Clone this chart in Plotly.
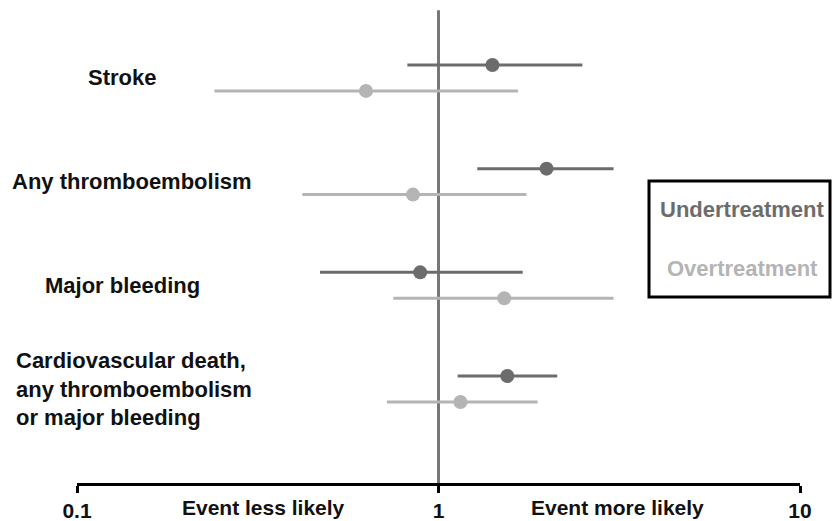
import math
import plotly.graph_objects as go

outcomes = ["Stroke", "Any thromboembolism", "Major bleeding",
            "Cardiovascular death,<br>any thromboembolism<br>or major bleeding"]
under_est = [1.41, 1.99, 0.89, 1.55]
under_lo = [0.82, 1.28, 0.47, 1.13]
under_hi = [2.50, 3.05, 1.71, 2.13]
over_est = [0.63, 0.85, 1.52, 1.15]
over_lo = [0.24, 0.42, 0.75, 0.72]
over_hi = [1.66, 1.75, 3.05, 1.88]
tick_vals = [0.1, 1, 10]
tick_text = ["0.1", "1", "10"]
direction_labels = ["Event less likely", "Event more likely"]
direction_pos = [0.328, 3.13]
series_names = ["Undertreatment", "Overtreatment"]

DARK = "#6c6c6c"
LIGHT = "#b4b4b4"
FONT = "Liberation Sans, Arial, sans-serif"
FS = 22
FS_AX = 21

idx = list(range(len(outcomes)))
off = 0.125

fig = go.Figure()
for est, lo, hi, color, sgn, name in [
    (under_est, under_lo, under_hi, DARK, -1, series_names[0]),
    (over_est, over_lo, over_hi, LIGHT, 1, series_names[1]),
]:
    fig.add_trace(go.Scatter(
        x=est, y=[i + sgn * off for i in idx], mode="markers", name=name,
        marker=dict(size=14, color=color),
        error_x=dict(type="data", symmetric=False,
                     array=[h - e for h, e in zip(hi, est)],
                     arrayminus=[e - l for e, l in zip(est, lo)],
                     color=color, thickness=3, width=0),
        showlegend=False, cliponaxis=False,
    ))

fig.add_shape(type="line", xref="x", yref="paper", x0=1, x1=1, y0=0, y1=0.979,
              line=dict(color="#777777", width=3), layer="below")

# y-axis category labels
label_pos = [(122, "center"), (132, "center"), (122, "center"), (14, "left")]
for i, (txt, (px, anc)) in enumerate(zip(outcomes, label_pos)):
    fig.add_annotation(x=(px - 77) / 723, xref="paper", y=i, yref="y",
                       text="<b>" + txt + "</b>",
                       showarrow=False, xanchor=anc, yanchor="middle", align="left",
                       font=dict(family=FONT, size=FS, color="#111111"))

# axis direction labels (annotation x on a log axis is given in log10 units)
for xv, txt in zip(direction_pos, direction_labels):
    fig.add_annotation(x=math.log10(xv), xref="x", y=(483 - 507) / 483, yref="paper",
                       text="<b>" + txt + "</b>", showarrow=False,
                       xanchor="center", yanchor="middle",
                       font=dict(family=FONT, size=FS_AX, color="#111111"))

# legend box
fig.add_shape(type="rect", xref="paper", yref="paper",
              x0=(649 - 77) / 723, x1=(830 - 77) / 723,
              y0=(483 - 297) / 483, y1=(483 - 181) / 483,
              line=dict(color="black", width=3))
for name, color, py in [(series_names[0], DARK, 209), (series_names[1], LIGHT, 268)]:
    fig.add_annotation(x=(742 - 77) / 723, xref="paper", y=(483 - py) / 483, yref="paper",
                       text="<b>" + name + "</b>", showarrow=False,
                       xanchor="center", yanchor="middle",
                       font=dict(family=FONT, size=FS, color=color))

fig.update_layout(
    width=833, height=521,
    margin=dict(l=77, r=33, t=0, b=38, autoexpand=False),
    plot_bgcolor="white", paper_bgcolor="white",
    font=dict(family=FONT, size=FS, color="#111111"),
    xaxis=dict(type="log", range=[-1, 1], tickvals=tick_vals,
               ticktext=["<b>" + t + "</b>" for t in tick_text],
               showgrid=False, zeroline=False, showline=True, linecolor="black",
               linewidth=3, ticks="outside", ticklen=7, tickwidth=3, tickcolor="black",
               tickfont=dict(family=FONT, size=FS_AX, color="#111111"), ticklabelstandoff=0),
    yaxis=dict(range=[3.907, -0.752], visible=False, showgrid=False, zeroline=False),
)

fig.write_html("out.html", config={"displayModeBar": False},
               post_script="document.body.style.margin='0px';")
